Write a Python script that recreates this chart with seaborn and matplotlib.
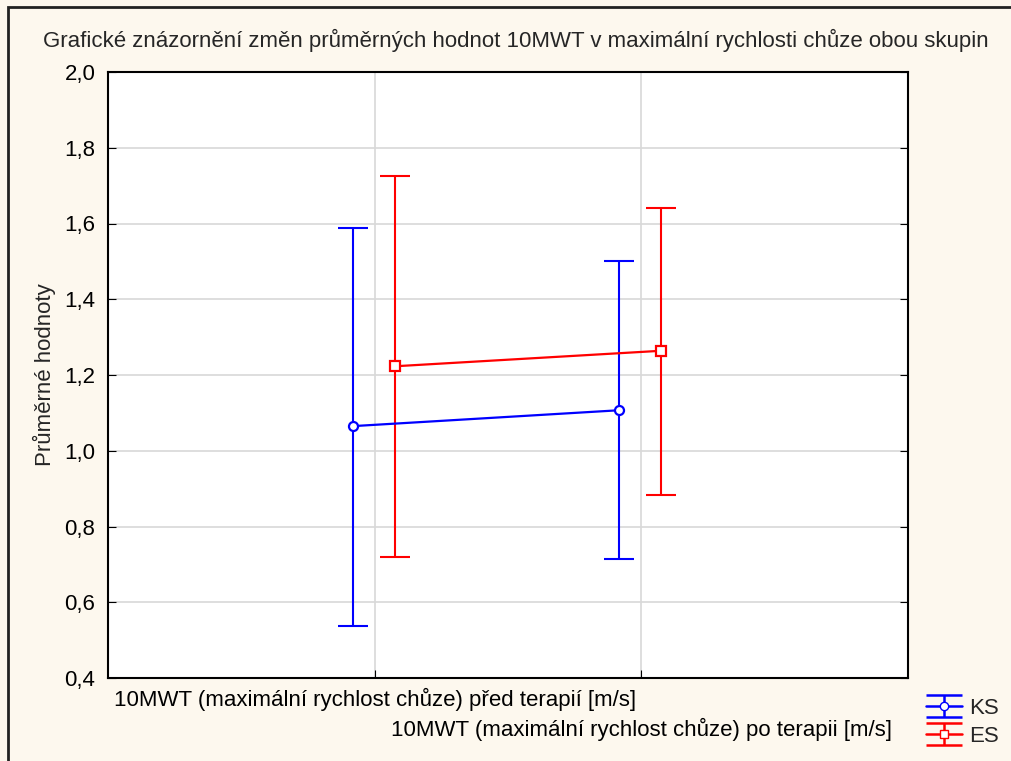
import numpy as np
import pandas as pd
import matplotlib
matplotlib.use("Agg")
import matplotlib.pyplot as plt
from matplotlib.patches import Rectangle
from matplotlib.ticker import FuncFormatter, MultipleLocator
import seaborn as sns

# ---- data ----
categories = ["10MWT (maximální rychlost chůze) před terapií [m/s]",
              "10MWT (maximální rychlost chůze) po terapii [m/s]"]
groups = ["KS", "ES"]
ks_mean = [1.065, 1.107]
ks_low = [0.537, 0.713]
ks_high = [1.589, 1.500]
es_mean = [1.223, 1.264]
es_low = [0.719, 0.884]
es_high = [1.725, 1.640]

title = "Grafické znázornění změn průměrných hodnot 10MWT v maximální rychlosti chůze obou skupin"
ylabel = "Průměrné hodnoty"

colors = {"KS": "#0000ff", "ES": "#ff0000"}
markers = {"KS": "o", "ES": "s"}
offsets = {"KS": -0.082, "ES": 0.075}

rows = []
for g, m, lo, hi in [("KS", ks_mean, ks_low, ks_high), ("ES", es_mean, es_low, es_high)]:
    for i in range(len(categories)):
        rows.append({"group": g, "pos": i + offsets[g], "mean": m[i], "low": lo[i], "high": hi[i]})
df = pd.DataFrame(rows)

sns.set_style("white")
plt.rcParams["font.family"] = ["Liberation Sans", "DejaVu Sans"]
FS = 16

fig = plt.figure(figsize=(10.12, 7.61), dpi=100, facecolor="#fdf8ee")
ax = fig.add_axes([108/1012, 1-678/761, 800/1012, 606/761])
ax.set_facecolor("white")

sns.lineplot(data=df, x="pos", y="mean", hue="group", style="group",
             hue_order=groups, style_order=groups, palette=colors,
             markers=markers, dashes=False, linewidth=1.6, markersize=6.5,
             legend=False, ax=ax, zorder=3)
for line in ax.lines:
    c = line.get_color()
    line.set_markerfacecolor("white")
    line.set_markeredgecolor(c)
    line.set_markeredgewidth(1.6)

handles = []
for g in groups:
    sub = df[df.group == g]
    ax.errorbar(sub["pos"], sub["mean"],
                yerr=[sub["mean"] - sub["low"], sub["high"] - sub["mean"]],
                fmt="none", ecolor=colors[g], elinewidth=1.5, capsize=10.5,
                capthick=1.5, zorder=2)
    h = ax.errorbar([np.nan], [np.nan], yerr=[np.nan], fmt="-" + markers[g],
                    color=colors[g], mfc="white", mec=colors[g], ms=6, lw=1.8,
                    elinewidth=1.8, capsize=13, capthick=1.8, label=g)
    handles.append(h)

ax.set_xlim(-1, 2)
ax.set_ylim(0.4, 2.0)
ax.yaxis.set_major_locator(MultipleLocator(0.2))
ax.yaxis.set_major_formatter(FuncFormatter(lambda v, p: f"{v:.1f}".replace(".", ",")))
ax.set_xticks(range(len(categories)))
ax.set_xticklabels(categories)
for i, lab in enumerate(ax.get_xticklabels()):
    lab.set_y(-0.0 - 0.05 * i)
ax.grid(True, color="#d8d8d8", linewidth=1.2)
ax.set_axisbelow(True)
for s in ax.spines.values():
    s.set_color("black")
    s.set_linewidth(1.5)
ax.tick_params(axis="y", direction="in", left=True, right=True, length=6,
               labelsize=FS, colors="black", pad=9)
ax.tick_params(axis="x", direction="in", bottom=True, length=6,
               labelsize=FS, colors="black", pad=7)
ax.set_xlabel("")
ax.set_ylabel(ylabel, fontsize=FS, labelpad=6)
fig.text(516/1012, 1 - 40/761, title, ha="center", va="center", fontsize=FS)

fig.legend(handles=handles, labels=groups, loc="upper left",
           bbox_to_anchor=(915/1012, 1 - 687/761), frameon=False,
           fontsize=FS, handlelength=1.6, handletextpad=0.35, labelspacing=0.3,
           borderpad=0)

fig.patches.append(Rectangle((8/1012, -0.1), 1.2, 1.1 - 7/761,
                             transform=fig.transFigure, fill=False,
                             edgecolor="#222222", linewidth=2))

fig.savefig("out.png", dpi=100, facecolor=fig.get_facecolor())
